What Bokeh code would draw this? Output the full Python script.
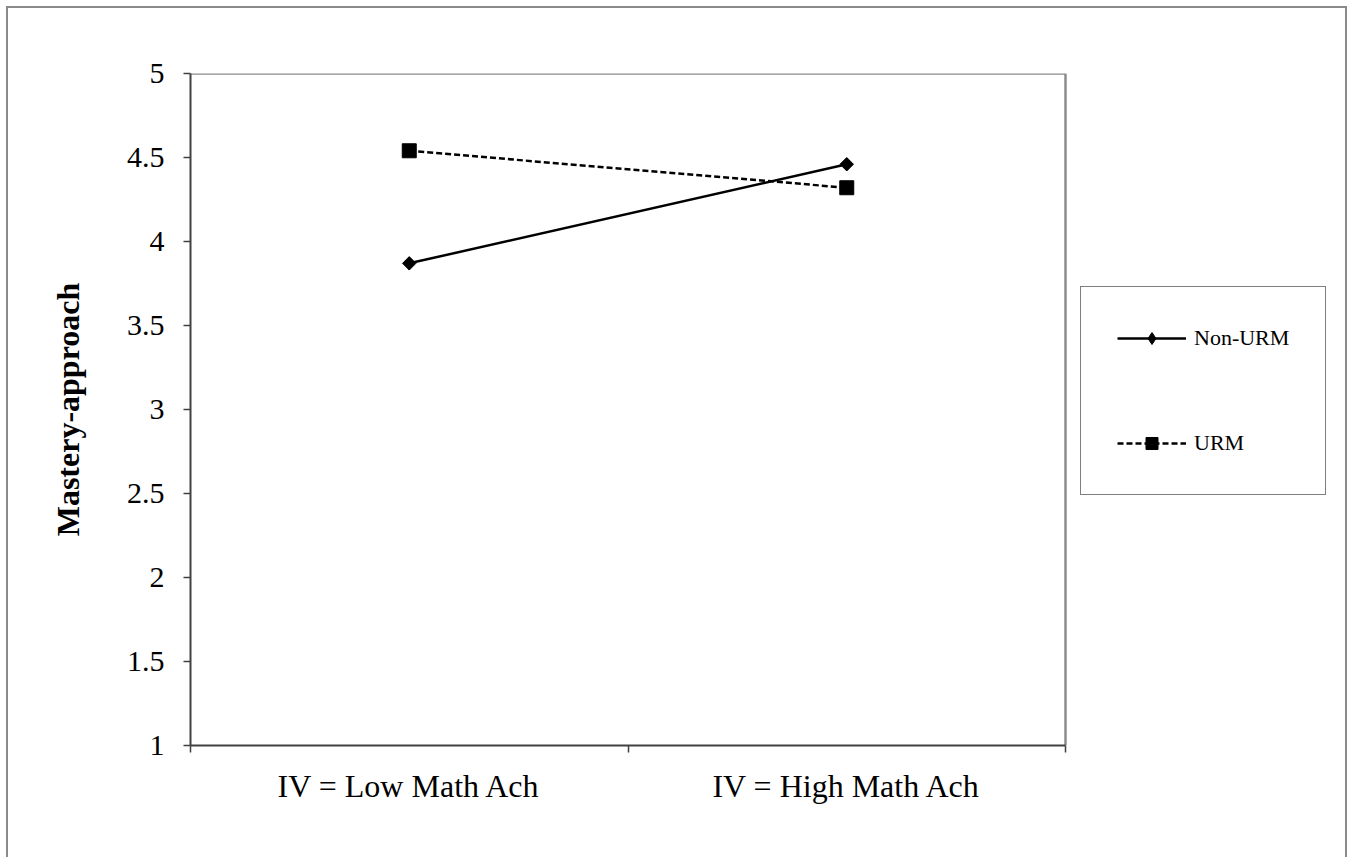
from bokeh.plotting import figure
from bokeh.models import FixedTicker, Legend, LegendItem, Range1d
from bokeh.embed import file_html
from bokeh.resources import INLINE
import math

# ---- data ----
categories = ["IV = Low Math Ach", "IV = High Math Ach"]
non_urm = [3.87, 4.46]
urm = [4.54, 4.32]
y_ticks = [1, 1.5, 2, 2.5, 3, 3.5, 4, 4.5, 5]
y_tick_labels = ["1", "1.5", "2", "2.5", "3", "3.5", "4", "4.5", "5"]
y_title = "Mastery-approach"
series_names = ["Non-URM", "URM"]

x_pos = [i + 0.5 for i in range(len(categories))]
x_lo, x_hi = 0, len(categories)
y_lo, y_hi = y_ticks[0], y_ticks[-1]

FONT = "Liberation Serif"

# plot box is 875 px wide; the frame extends further right to hold the legend
PLOT_W = 875
FRAME_W = 1145
x_end = x_hi * FRAME_W / PLOT_W

p = figure(width=1337, height=849, output_backend="svg", toolbar_location=None,
           x_range=Range1d(x_lo, x_end), y_range=Range1d(y_lo, y_hi),
           frame_width=FRAME_W, frame_height=672,
           min_border_left=182, min_border_top=65, min_border_right=10, min_border_bottom=112)
p.styles = {"border-top": "2px solid #8a8a8a", "border-left": "2px solid #8a8a8a",
            "border-right": "2px solid #8a8a8a", "margin-left": "6px", "margin-top": "6px"}

p.background_fill_color = "white"
p.border_fill_color = "white"
p.xgrid.visible = False
p.ygrid.visible = False
p.outline_line_color = None

# plot-area box: top and right edges (gray), drawn at the axis limits
p.segment(x0=[x_lo, x_hi], y0=[y_hi, y_lo], x1=[x_hi, x_hi], y1=[y_hi, y_hi],
          line_color="#8c8c8c", line_width=2.5)

# y axis
ya = p.yaxis[0]
ya.ticker = FixedTicker(ticks=y_ticks, minor_ticks=[])
ya.major_label_overrides = {t: l for t, l in zip(y_ticks, y_tick_labels)}
ya.axis_line_color = "#404040"
ya.axis_line_width = 2
ya.major_tick_line_color = "#404040"
ya.major_tick_line_width = 1.5
ya.major_tick_out = 7
ya.major_tick_in = 0
ya.minor_tick_out = 0
ya.minor_tick_in = 0
ya.major_label_text_font = FONT
ya.major_label_text_font_size = "30px"
ya.major_label_text_color = "black"
ya.major_label_standoff = 19
ya.axis_label = y_title
ya.axis_label_text_font = FONT
ya.axis_label_text_font_size = "32px"
ya.axis_label_text_font_style = "bold"
ya.axis_label_text_color = "black"
ya.axis_label_standoff = 38

# x axis
xa = p.xaxis[0]
xa.bounds = (x_lo, x_hi)
xa.ticker = FixedTicker(ticks=x_pos, minor_ticks=list(range(x_lo, x_hi + 1)))
xa.major_label_overrides = {x: c for x, c in zip(x_pos, categories)}
xa.axis_line_color = "#404040"
xa.axis_line_width = 2
xa.major_tick_out = 0
xa.major_tick_in = 0
xa.minor_tick_line_color = "#404040"
xa.minor_tick_line_width = 1.5
xa.minor_tick_out = 7
xa.minor_tick_in = 0
xa.major_label_text_font = FONT
xa.major_label_text_font_size = "32px"
xa.major_label_text_color = "black"
xa.major_label_standoff = 15

# series
r1 = p.line(x_pos, non_urm, line_color="black", line_width=2.5)
m1_key = p.scatter(x_pos, non_urm, marker="diamond", size=12,
                   fill_color="black", line_color="black")
m1 = p.scatter(x_pos, non_urm, marker="square", angle=math.pi / 4, size=9.5,
               fill_color="black", line_color="black")
r2 = p.line(x_pos, urm, line_color="black", line_width=2.5, line_dash="6 3")
m2 = p.scatter(x_pos, urm, marker="square", size=14, fill_color="black", line_color="black")

legend = Legend(items=[LegendItem(label=series_names[0], renderers=[r1, m1_key]),
                       LegendItem(label=series_names[1], renderers=[r2, m2])],
                location=(890, 250))
legend.label_text_font = FONT
legend.label_text_font_size = "22px"
legend.label_text_color = "black"
legend.glyph_width = 69
legend.glyph_height = 30
legend.label_height = 30
legend.label_standoff = 8
legend.padding = 36
legend.spacing = 75
legend.margin = 0
legend.border_line_color = "black"
legend.border_line_width = 1
legend.background_fill_color = "white"
legend.background_fill_alpha = 1
p.add_layout(legend, "center")

open("out.html", "w").write(file_html(p, INLINE))
